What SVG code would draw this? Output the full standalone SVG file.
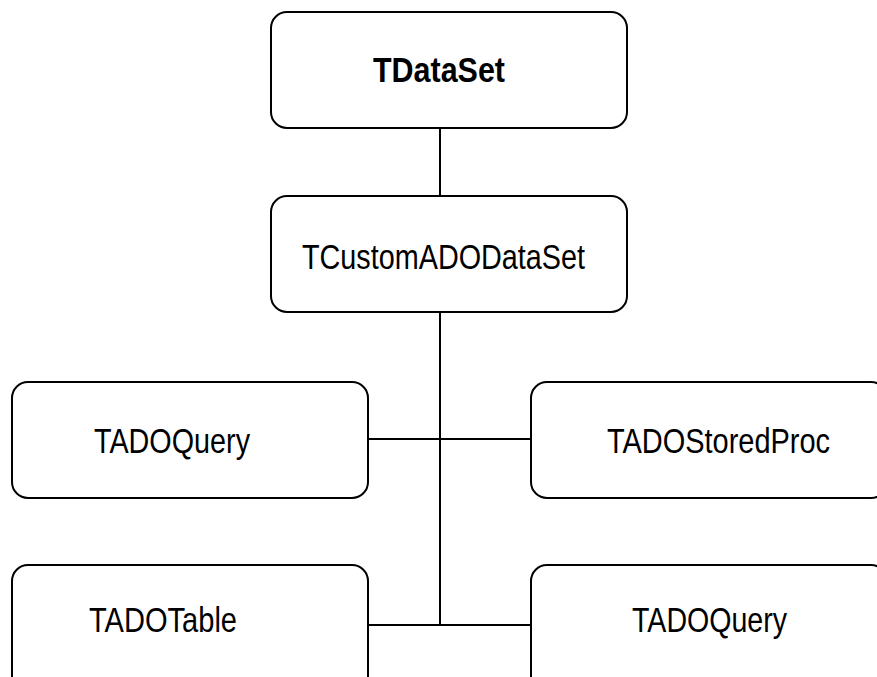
<svg xmlns="http://www.w3.org/2000/svg" width="877" height="677" viewBox="0 0 877 677">
<style>
.box{fill:#fff;stroke:#000;stroke-width:2}
.lbl{font-family:"Liberation Sans",Arial,sans-serif;font-size:35px;fill:#000}
.b{font-weight:bold}
.con{stroke:#000;stroke-width:2;fill:none}
</style>
<rect width="877" height="677" fill="#fff"/>
<g id="connectors">
<line class="con" x1="440" y1="128" x2="440" y2="196"/>
<line class="con" x1="440" y1="312" x2="440" y2="625"/>
<line class="con" x1="368" y1="439" x2="531" y2="439"/>
<line class="con" x1="368" y1="625" x2="531" y2="625"/>
</g>
<g id="tdataset">
<rect class="box" x="271" y="12" width="356" height="116" rx="16"/>
<text class="lbl b" x="373" y="82" textLength="132" lengthAdjust="spacingAndGlyphs">TDataSet</text>
</g>
<g id="tcustomadodataset">
<rect class="box" x="271" y="196" width="356" height="116" rx="16"/>
<text class="lbl" x="302" y="269" textLength="283" lengthAdjust="spacingAndGlyphs">TCustomADODataSet</text>
</g>
<g id="tadoquery1">
<rect class="box" x="12" y="382" width="356" height="116" rx="16"/>
<text class="lbl" x="94" y="453" textLength="156" lengthAdjust="spacingAndGlyphs">TADOQuery</text>
</g>
<g id="tadostoredproc">
<rect class="box" x="531" y="382" width="356" height="116" rx="16"/>
<text class="lbl" x="607" y="453" textLength="223" lengthAdjust="spacingAndGlyphs">TADOStoredProc</text>
</g>
<g id="tadotable">
<rect class="box" x="12" y="565" width="356" height="130" rx="16"/>
<text class="lbl" x="89" y="632" textLength="148" lengthAdjust="spacingAndGlyphs">TADOTable</text>
</g>
<g id="tadoquery2">
<rect class="box" x="531" y="565" width="356" height="130" rx="16"/>
<text class="lbl" x="632" y="632" textLength="155" lengthAdjust="spacingAndGlyphs">TADOQuery</text>
</g>
</svg>
